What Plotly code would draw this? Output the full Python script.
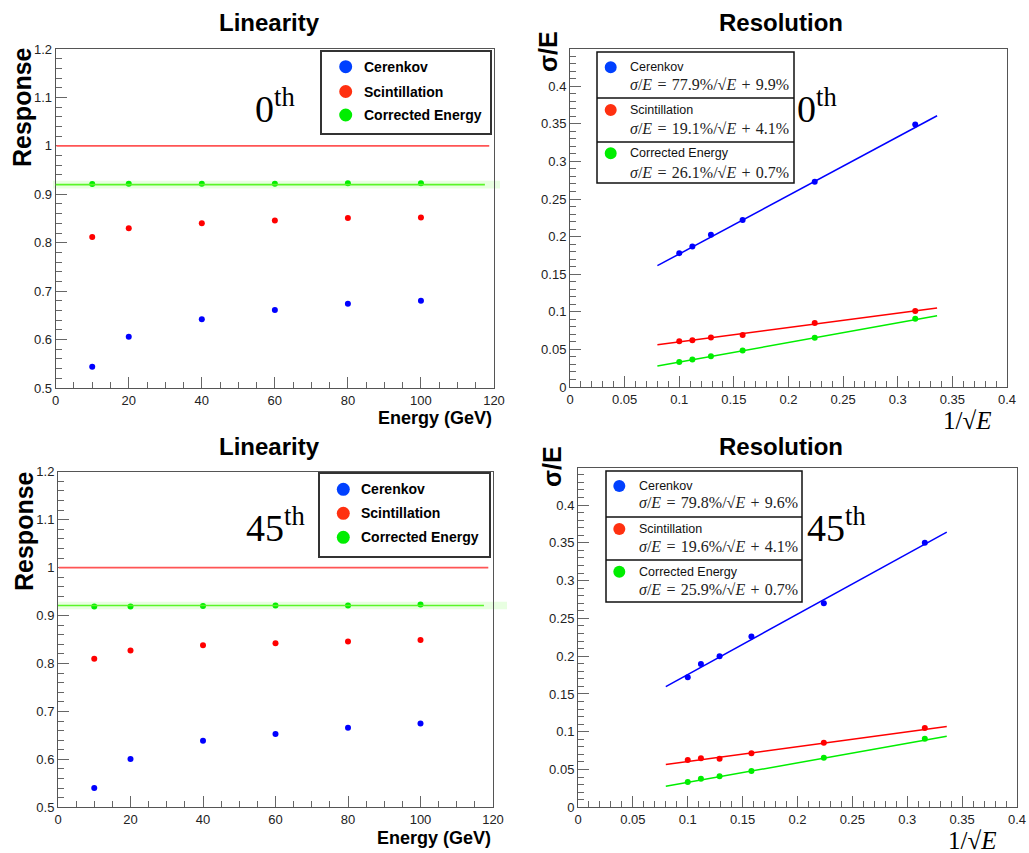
import plotly.graph_objects as go

W, H = 1029, 853

# ---------------- data ----------------
energy = [10, 20, 40, 60, 80, 100]
inv_sqrt_e = [0.316, 0.224, 0.158, 0.129, 0.112, 0.100]

series_names = ["Cerenkov", "Scintillation", "Corrected Energy"]
series_colors = ["#0000ff", "#ff0000", "#00ee00"]
legend_colors = ["#0040ff", "#ff3010", "#00ee00"]

lin0_cer = [0.544, 0.606, 0.642, 0.661, 0.674, 0.680]
lin0_sci = [0.812, 0.830, 0.840, 0.846, 0.851, 0.852]
lin0_cor = [0.921, 0.922, 0.922, 0.922, 0.923, 0.923]
lin45_cer = [0.540, 0.601, 0.639, 0.653, 0.666, 0.675]
lin45_sci = [0.810, 0.827, 0.838, 0.842, 0.846, 0.849]
lin45_cor = [0.919, 0.919, 0.920, 0.921, 0.921, 0.923]

res0_cer = [0.349, 0.273, 0.222, 0.2025, 0.187, 0.178]
res0_sci = [0.101, 0.085, 0.069, 0.0658, 0.0623, 0.061]
res0_cor = [0.0908, 0.0654, 0.0485, 0.041, 0.0365, 0.0334]
res45_cer = [0.350, 0.270, 0.226, 0.200, 0.1896, 0.172]
res45_sci = [0.105, 0.0855, 0.0714, 0.0643, 0.0648, 0.0626]
res45_cor = [0.0908, 0.0657, 0.048, 0.041, 0.0379, 0.0335]

# fit parameters (stochastic %, constant %)
fit0_stoch = [77.9, 19.1, 26.1]
fit0_const = [9.9, 4.1, 0.7]
fit45_stoch = [79.8, 19.6, 25.9]
fit45_const = [9.6, 4.1, 0.7]
fit_range = [0.08, 0.336]

ref_level = 1.0
lin0_fit_level = 0.920
lin45_fit_level = 0.921
lin_band_half = 0.008
lin_fit_xrange = [-0.7, 117.5]

angle_labels = ["0", "45"]

# ---------------- layout helpers ----------------
def dom_x(a, b):
    return [a / W, b / W]

def dom_y(top, bottom):
    return [1 - bottom / H, 1 - top / H]

def px(x):
    return x / W

def py(y):
    return 1 - y / H

panels = {
    # name: (left, right, top, bottom) in pixels
    "TL": (55.7, 494, 49, 388),
    "TR": (570, 1007, 49, 387),
    "BL": (58, 493, 471.7, 807.3),
    "BR": (578, 1017, 467.7, 807.3),
}
axis_ids = {"TL": ("x", "y"), "TR": ("x2", "y2"), "BL": ("x3", "y3"), "BR": ("x4", "y4")}

fig = go.Figure()

SANS = "Liberation Sans, Arial, sans-serif"
SERIF = "Liberation Serif, Times New Roman, serif"

# ---------------- traces ----------------
lin_sets = [("TL", [lin0_cer, lin0_sci, lin0_cor]), ("BL", [lin45_cer, lin45_sci, lin45_cor])]
for key, ys in lin_sets:
    xa, ya = axis_ids[key]
    for name, col, yv in zip(series_names, series_colors, ys):
        fig.add_trace(go.Scatter(x=energy, y=yv, mode="markers", name=name,
                                 marker=dict(color=col, size=6),
                                 xaxis=xa, yaxis=ya, showlegend=False))

res_sets = [("TR", [res0_cer, res0_sci, res0_cor], fit0_stoch, fit0_const),
            ("BR", [res45_cer, res45_sci, res45_cor], fit45_stoch, fit45_const)]
for key, ys, st, cs in res_sets:
    xa, ya = axis_ids[key]
    for name, col, yv, s, c in zip(series_names, series_colors, ys, st, cs):
        fy = [s / 100 * fx + c / 100 for fx in fit_range]
        fig.add_trace(go.Scatter(x=fit_range, y=fy, mode="lines", name=name + " fit",
                                 line=dict(color=col, width=1.5),
                                 xaxis=xa, yaxis=ya, showlegend=False, hoverinfo="skip"))
        fig.add_trace(go.Scatter(x=inv_sqrt_e, y=yv, mode="markers", name=name,
                                 marker=dict(color=col, size=6),
                                 xaxis=xa, yaxis=ya, showlegend=False))

# ---------------- axes ----------------
axcommon = dict(showgrid=False, zeroline=False, showline=True, linecolor="#555",
                linewidth=1, mirror=True, ticks="inside", tickcolor="#666",
                automargin=False,
                tickfont=dict(family=SANS, size=13, color="#222"))

layout = dict(width=W, height=H, margin=dict(l=0, r=0, t=0, b=0, pad=0, autoexpand=False),
              paper_bgcolor="white", plot_bgcolor="white", showlegend=False)

def axname(a):
    return "xaxis" + a[1:] if a.startswith("x") else "yaxis" + a[1:]

for key, (l, r, t, b) in panels.items():
    xa, ya = axis_ids[key]
    lin = key in ("TL", "BL")
    xd = dict(axcommon, domain=dom_x(l, r), anchor=ya,
              range=[0, 120] if lin else [0, 0.4],
              tickmode="linear", tick0=0, dtick=20 if lin else 0.05, ticklen=11,
              minor=dict(dtick=5 if lin else 0.01, ticklen=6, ticks="inside", tickcolor="#666"))
    yd = dict(axcommon, domain=dom_y(t, b), anchor=xa,
              range=[0.5, 1.2] if lin else [0, 0.4495],
              tickmode="linear", tick0=0, dtick=0.1 if lin else 0.05, ticklen=11,
              minor=dict(dtick=0.02 if lin else 0.01, ticklen=6, ticks="inside", tickcolor="#666"))
    layout[axname(xa)] = xd
    layout[axname(ya)] = yd

fig.update_layout(**layout)

shapes = []
annotations = []

# ---------------- reference lines on linearity ----------------
for key, lvl, band_px in [("TL", lin0_fit_level, (53, 500)), ("BL", lin45_fit_level, (58, 507))]:
    xa, ya = axis_ids[key]
    shapes.append(dict(type="rect", xref="paper", yref=ya, x0=px(band_px[0]), x1=px(band_px[1]),
                       y0=lvl - lin_band_half, y1=lvl + lin_band_half,
                       fillcolor="rgba(190,255,170,0.35)", line=dict(width=0), layer="below"))
    shapes.append(dict(type="line", xref=xa, yref=ya, x0=0.2, x1=118.7, y0=ref_level, y1=ref_level,
                       line=dict(color="rgb(255,85,85)", width=1.6)))
    shapes.append(dict(type="line", xref=xa, yref=ya, x0=lin_fit_xrange[0], x1=lin_fit_xrange[1],
                       y0=lvl, y1=lvl, line=dict(color="rgb(90,245,40)", width=1.6)))

# ---------------- titles ----------------
def text(x, y, s, size, family=SANS, xanchor="center", yanchor="middle", angle=0, color="black"):
    annotations.append(dict(x=px(x), y=py(y), xref="paper", yref="paper", text=s,
                            showarrow=False, xanchor=xanchor, yanchor=yanchor, textangle=angle,
                            font=dict(family=family, size=size, color=color)))

for cy in (23, 446):
    text(269, cy, "<b>Linearity</b>", 24)
    text(781, cy, "<b>Resolution</b>", 24)

text(22, 107, "<b>Response</b>", 25, angle=-90)
text(24, 531, "<b>Response</b>", 25, angle=-90)
text(548, 52, "<b>σ/E</b>", 25, angle=-90)
text(552, 467, "<b>σ/E</b>", 25, angle=-90)

text(494, 418, "<b>Energy (GeV)</b>", 18, xanchor="right")
text(493, 838, "<b>Energy (GeV)</b>", 18, xanchor="right")
text(993, 405, "1/√<i>E</i>", 25, family=SERIF, xanchor="right", yanchor="top")
text(998, 825, "1/√<i>E</i>", 25, family=SERIF, xanchor="right", yanchor="top")

# angle labels
text(275, 106, angle_labels[0] + "<sup>th</sup>", 38, family=SERIF)
text(817, 106, angle_labels[0] + "<sup>th</sup>", 38, family=SERIF)
text(275, 525, angle_labels[1] + "<sup>th</sup>", 38, family=SERIF)
text(836, 525, angle_labels[1] + "<sup>th</sup>", 38, family=SERIF)

# ---------------- legends ----------------
def circle(cx, cy, r, col):
    shapes.append(dict(type="circle", xref="paper", yref="paper",
                       x0=px(cx - r), x1=px(cx + r), y0=py(cy + r), y1=py(cy - r),
                       fillcolor=col, line=dict(width=0)))

def box(l, t, r, b, width=1.5, color="#222"):
    shapes.append(dict(type="rect", xref="paper", yref="paper", x0=px(l), x1=px(r),
                       y0=py(b), y1=py(t), line=dict(color=color, width=width),
                       fillcolor="white", layer="above"))

# linearity legends
for (l, t, r, b), cx, tx, rows in [((321, 51, 491, 134), 345.7, 362, (66.7, 91.5, 115)),
                                    ((319, 473, 490, 557), 343.3, 359.3, (489.3, 513.3, 537.3))]:
    box(l, t, r, b, width=2, color="#333")
    for name, col, cy in zip(series_names, legend_colors, rows):
        circle(cx, cy, 6.5, col)
        text(tx, cy, "<b>" + name + "</b>", 14, xanchor="left")

# resolution legends
SP = "\u2004"
def fmt(s, c):
    return ("<i>σ</i>/<i>E</i>" + SP + "=" + SP + "%.1f%%/√<i>E</i>" + SP + "+" + SP + "%.1f%%") % (s, c)

for (l, t, r, b), seps, cx, tx, rows1, rows2, st, cs in [
        ((597, 52, 794, 183), (98, 142), 610.7, 627.7, (67.3, 110, 153.3), (84.7, 128.3, 172.3), fit0_stoch, fit0_const),
        ((606, 471, 802, 602), (517, 560), 619.3, 636.7, (486, 529, 571.7), (502.7, 546.7, 589.3), fit45_stoch, fit45_const)]:
    box(l, t, r, b, width=1.5, color="#111")
    for sy in seps:
        shapes.append(dict(type="line", xref="paper", yref="paper", x0=px(l), x1=px(r),
                           y0=py(sy), y1=py(sy), line=dict(color="#111", width=1.5)))
    for name, col, cy, cy2, s, c in zip(series_names, legend_colors, rows1, rows2, st, cs):
        circle(cx, cy, 6, col)
        text(tx, cy, name, 12.5, xanchor="left", color="#111")
        text(tx, cy2, fmt(s, c), 16, family=SERIF, xanchor="left", color="#222")

fig.update_layout(shapes=shapes, annotations=annotations)
fig.write_html("out.html", config={"displayModeBar": False},
               post_script="document.body.style.margin='0px';")
